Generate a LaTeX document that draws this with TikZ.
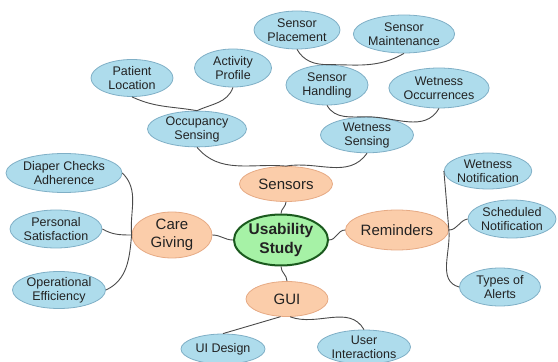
\documentclass[tikz,border=0pt]{standalone}
\usepackage{fontspec}
\setmainfont{Liberation Sans}
\usetikzlibrary{shapes.geometric}
\definecolor{leaffill}{HTML}{AEDCEC}
\definecolor{leafdraw}{HTML}{7FAFC6}
\definecolor{midfill}{HTML}{FBCDAA}
\definecolor{middraw}{HTML}{E6AA84}
\definecolor{rootfill}{HTML}{A6F2A6}
\definecolor{rootdraw}{HTML}{1B5A1E}
\definecolor{edgecol}{HTML}{4A4A4A}
\definecolor{txt}{HTML}{222222}
\tikzset{
  leaf/.style={ellipse, draw=leafdraw, fill=leaffill, line width=0.8pt, inner sep=0pt, align=center, text=txt,
    font=\fontsize{12.5}{14}\selectfont},
  mid/.style={ellipse, draw=middraw, fill=midfill, line width=0.8pt, inner sep=0pt, align=center, text=txt,
    font=\fontsize{15}{18}\selectfont},
  root/.style={ellipse, draw=rootdraw, fill=rootfill, line width=2pt, inner sep=0pt, align=center, text=txt,
    font=\fontsize{15.5}{18.5}\selectfont\bfseries},
  conn/.style={draw=edgecol, line width=0.9pt}
}
\begin{document}
\begin{tikzpicture}[x=1pt,y=1pt]
\useasboundingbox (0,0) rectangle (558,362);
% main nodes
\node[root, minimum width=94pt, minimum height=51pt] (us) at (281,122) {Usability\\Study};
\node[mid, minimum width=93pt, minimum height=35pt] (sen) at (286,178) {Sensors};
\node[mid, minimum width=80pt, minimum height=46pt] (care) at (172,127) {Care\\Giving};
\node[mid, minimum width=103pt, minimum height=40pt] (rem) at (397,132) {Reminders};
\node[mid, minimum width=82pt, minimum height=35pt] (gui) at (287,63) {GUI};
% sensors branch
\node[leaf, minimum width=82pt, minimum height=37pt] (pl) at (132,284) {Patient\\Location};
\node[leaf, minimum width=77pt, minimum height=38pt] (ap) at (233,294) {Activity\\Profile};
\node[leaf, minimum width=99pt, minimum height=34pt] (oc) at (197,233) {Occupancy\\Sensing};
\node[leaf, minimum width=86pt, minimum height=38pt] (sp) at (297,332) {Sensor\\Placement};
\node[leaf, minimum width=99pt, minimum height=38pt] (sm) at (404,328) {Sensor\\Maintenance};
\node[leaf, minimum width=82pt, minimum height=40pt] (sh) at (327,277) {Sensor\\Handling};
\node[leaf, minimum width=99pt, minimum height=40pt] (wo) at (439,274) {Wetness\\Occurrences};
\node[leaf, minimum width=93pt, minimum height=34pt] (ws) at (367,227) {Wetness\\Sensing};
% reminders branch
\node[leaf, minimum width=87pt, minimum height=36pt] (wn) at (488,191) {Wetness\\Notification};
\node[leaf, minimum width=88pt, minimum height=38pt] (sn) at (512,143) {Scheduled\\Notification};
\node[leaf, minimum width=81pt, minimum height=38pt] (ta) at (500,75) {Types of\\Alerts};
% care giving branch
\node[leaf, minimum width=116pt, minimum height=39pt] (dc) at (64,189) {Diaper Checks\\Adherence};
\node[leaf, minimum width=92pt, minimum height=38pt] (ps) at (56,133) {Personal\\Satisfaction};
\node[leaf, minimum width=93pt, minimum height=37pt] (oe) at (59,72) {Operational\\Efficiency};
% gui branch
\node[leaf, minimum width=84pt, minimum height=30pt] (uid) at (223,13) {UI Design};
\node[leaf, minimum width=93pt, minimum height=34pt] (uin) at (364,15) {User\\Interactions};
% connectors
\draw[conn] (pl.south) to[out=-25,in=170] (oc.north);
\draw[conn] (ap.south) to[out=-110,in=25] (oc.north);
\draw[conn] (oc.south) to[out=-50,in=175] (sen.north);
\draw[conn] (ws.south) to[out=-125,in=10] (sen.north);
\draw[conn] (sp.south) to[out=-60,in=180] (sh.north);
\draw[conn] (sm.south) to[out=-150,in=0] (sh.north);
\draw[conn] (sh.south) to[out=-60,in=180] (ws.north);
\draw[conn] (wo.south) to[out=-120,in=0] (ws.north);
\draw[conn] (sen.south) to[out=-90,in=90] (us.north);
\draw[conn] (care.east) to[out=0,in=180] (us.west);
\draw[conn] (rem.west) to[out=180,in=0] (us.east);
\draw[conn] (gui.north) to[out=90,in=-90] (us.south);
\draw[conn] (gui.250) -- (uid.north);
\draw[conn] (gui.-80) to[out=-20,in=120] (uin.north);
\draw[conn] (care.west) to[out=95,in=-45] (dc.east);
\draw[conn] (care.west) to[out=180,in=-30] (ps.east);
\draw[conn] (care.west) to[out=-95,in=25] (oe.east);
\draw[conn] (rem.east) to[out=95,in=-85] (wn.west);
\draw[conn] (rem.east) to[out=0,in=190] (sn.west);
\draw[conn] (rem.east) to[out=-85,in=165] (ta.west);
\end{tikzpicture}
\end{document}
